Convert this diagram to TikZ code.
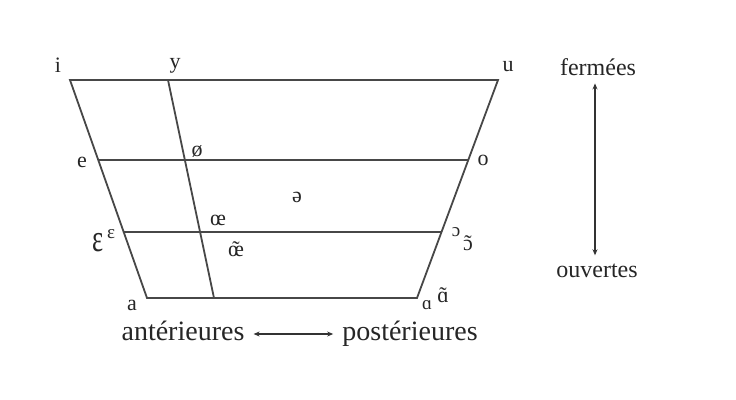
\documentclass[tikz,border=0pt]{standalone}
\usepackage{fontspec}
\usepackage{graphicx}
\setmainfont{Liberation Serif}
\usetikzlibrary{calc,arrows.meta}
\newcommand{\nasvow}[1]{\ooalign{#1\cr\hidewidth\char"02DC\hidewidth\cr}}
\begin{document}
\begin{tikzpicture}[x=1pt,y=-1pt,
  trap/.style={draw=black!72,line width=1.8pt,line join=miter},
  vow/.style={inner sep=0pt,anchor=base,font=\fontsize{22}{24}\selectfont,text=black!85},
  vmid/.style={inner sep=0pt,anchor=base,font=\fontsize{19}{21}\selectfont,text=black!85},
  lab/.style={inner sep=0pt,anchor=base,font=\fontsize{28}{30}\selectfont,text=black!85},
  labs/.style={inner sep=0pt,anchor=base,font=\fontsize{24}{26}\selectfont,text=black!85},
  dblarrow/.style={draw=black!80,line width=1.3pt,{Stealth[length=6pt,width=5pt]}-{Stealth[length=6pt,width=5pt]}}]
\useasboundingbox[fill=white] (0,0) rectangle (736,399);
% corners
\coordinate (TL) at (70,80);
\coordinate (TR) at (498,80);
\coordinate (BL) at (147,298);
\coordinate (BR) at (417,298);
\coordinate (Y1) at (168,80);
\coordinate (Y2) at (214,298);
\coordinate (E1) at ($(TL)!80/218!(BL)$);
\coordinate (O1) at ($(TR)!80/218!(BR)$);
\coordinate (EE1) at ($(TL)!152/218!(BL)$);
\coordinate (OO1) at ($(TR)!152/218!(BR)$);
\draw[trap] (TL) -- (TR) -- (BR) -- (BL) -- cycle;
\draw[trap] (Y1) -- (Y2);
\draw[trap] (E1) -- (O1);
\draw[trap] (EE1) -- (OO1);
% vowel labels
\node[vow] (li) at (58,72) {i};
\node[vow] (ly) at (175,68) {y};
\node[vow] (lu) at (508,71) {u};
\node[vow] (le) at (82,167) {e};
\node[vow] (lo2) at (197,156) {ø};
\node[vow] (lo) at (483,165) {o};
\node[vow] (lschwa) at (297,202) {ə};
\node[vow] (loe) at (218,225) {œ};
\node[vow] (loen) at (236,256) {\nasvow{œ}};
\node[vow] (leps) at (98,251) {\scalebox{1.2}[1.75]{ɛ}};
\node[vmid] (lepsn) at (111,238) {ɛ};
\node[vmid] (lopen) at (456,236) {ɔ};
\node[vow] (lopenn) at (468,250) {\nasvow{ɔ}};
\node[vow] (la) at (132,310) {a};
\node[vmid] (lalpha) at (427,309) {ɑ};
\node[vow] (lalphan) at (443,302) {\nasvow{ɑ}};
% axis labels
\node[lab] (ant) at (183,340) {antérieures};
\node[lab] (post) at (410,340) {postérieures};
\node[labs] (ferm) at (598,75) {fermées};
\node[labs] (ouv) at (597,277) {ouvertes};
\draw[dblarrow] ($(ant.base east)+(9,-6)$) -- ($(post.base west)+(-9,-6)$);
\draw[dblarrow] ($(ferm.south)+(-3,8)$) -- ($(ouv.north)+(-2,-8)$);
\end{tikzpicture}
\end{document}
